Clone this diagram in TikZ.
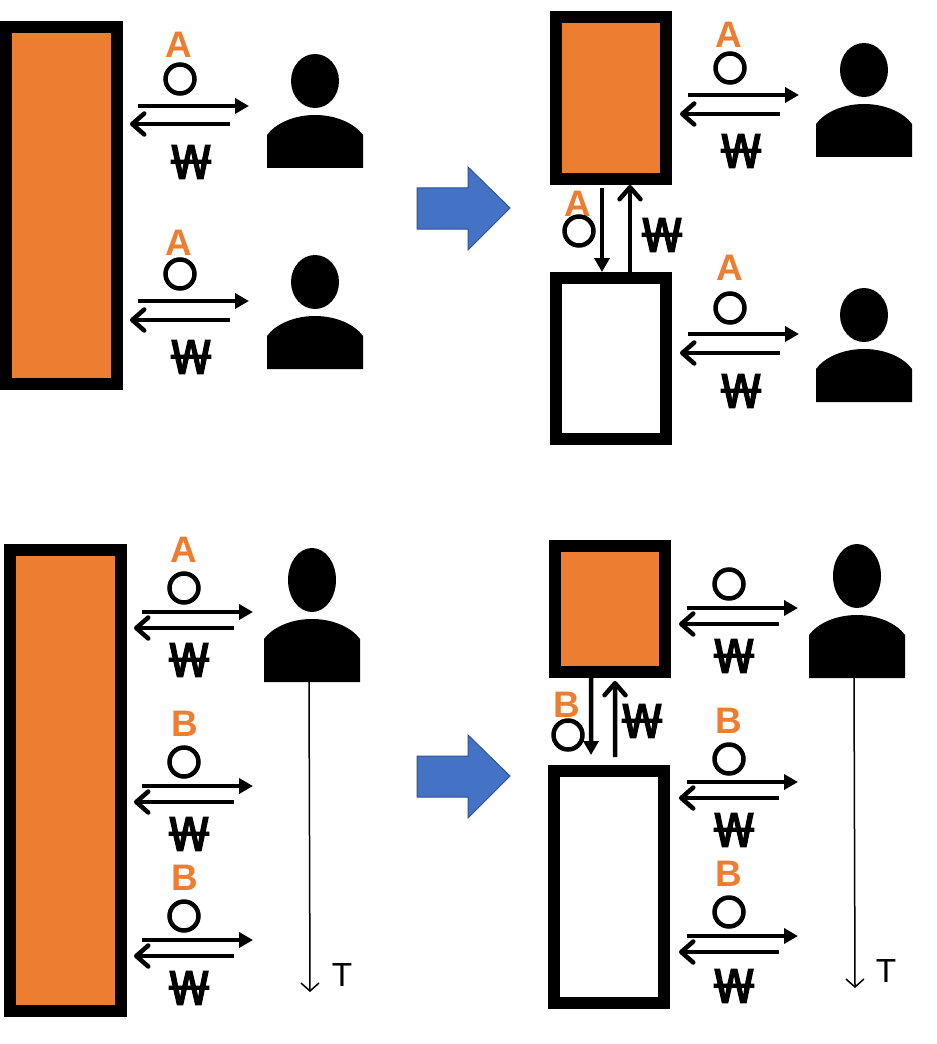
\documentclass[tikz,border=0pt]{standalone}
\usepackage{fontspec}
\setmainfont{Liberation Sans}
\newfontfamily\wonfont[FakeStretch=1.28,FakeBold=2.2]{Noto Sans}
\usetikzlibrary{arrows.meta}
\definecolor{goods}{HTML}{ED7D31}
\definecolor{bigblue}{HTML}{4472C4}
\definecolor{bigedge}{HTML}{2F528F}
\tikzset{
	store/.style={draw=black, line width=0.24cm, inner sep=0pt},
	letter/.style={text=goods, inner sep=0pt, font=\fontsize{21}{21}\selectfont\bfseries},
	ring/.style={circle, draw=black, line width=0.09cm, minimum size=0.58cm, inner sep=0pt},
	won/.style={inner sep=0pt, font=\fontsize{27}{27}\selectfont\wonfont},
	solid tip/.style={line width=0.09cm, -{Triangle[length=0.28cm, width=0.3cm]}},
	barb tip/.style={line width=0.09cm, -{Straight Barb[round, length=0.24cm, width=0.42cm]}},
	timeline/.style={line width=0.03cm, -{Straight Barb[length=0.16cm, width=0.36cm]}}
}
\def\deal#1(#2,#3)(#4,#5)(#6,#7){
	\begin{scope}[shift={(#2,#3)}]
		\node[ring] (#1ring) at (0, 0) {};
		\coordinate (#1outa) at (-42, #4);
		\coordinate (#1outb) at (69, #4);
		\coordinate (#1ina) at (50, #5);
		\coordinate (#1inb) at (-50, #5);
		\draw[solid tip] (#1outa) -- (#1outb);
		\draw[barb tip] (#1ina) -- (#1inb);
		\node[won] (#1won) at (#6, #7) {₩};
	\end{scope}
}
\def\person#1(#2,#3)(#4,#5){
	\begin{scope}[shift={(#2,#3)}]
		\fill[black] (0, -7-#4) ellipse (24 and #4);
		\fill[black] (-48, #5) -- (-48, 20) .. controls (-40, 9) and (-22, 0) .. (0, 0) .. controls (22, 0) and (40, 9) .. (48, 20) -- (48, #5) -- cycle;
		\coordinate (#1foot) at (-3, #5);
	\end{scope}
}
\def\bigarrow(#1,#2){
	\draw[fill=bigblue, draw=bigedge, line width=0.02cm] (#1, #2-20) -- (#1+51, #2-20) -- (#1+51, #2-41) -- (#1+93, #2) -- (#1+51, #2+42) -- (#1+51, #2+21) -- (#1, #2+21) -- cycle;
}

\begin{document}
\begin{tikzpicture}[x=0.02cm, y=-0.02cm]
	\useasboundingbox (0, 0) rectangle (936, 1044);
	%%%%% TOP LEFT %%%%%
	\node[store, fill=goods, minimum width=2.22cm, minimum height=7.14cm] (bigstore) at (61.5, 205.5) {};
	\node[letter] (la) at (179, 45) {A};
	\deal{a}(180, 79)(27, 45)(11, 83)
	\person{pa}(315, 115)(27, 53)
	\node[letter] (lb) at (179, 243) {A};
	\deal{b}(180, 274)(27, 46)(11, 83)
	\person{pb}(315, 316)(27, 53)
	
	\bigarrow(417, 208)
	
	%%%%% TOP RIGHT %%%%%
	\node[store, fill=goods, minimum width=2.2cm, minimum height=3.24cm] (upstore) at (611, 98) {};
	\node[store, fill=white, minimum width=2.2cm, minimum height=3.22cm] (lowstore) at (611, 358.5) {};
	\draw[solid tip, shorten <=0.06cm] ([xshift=-0.18cm]upstore.south) -- ([xshift=-0.18cm]lowstore.north);
	\draw[barb tip] ([xshift=0.38cm]lowstore.north) -- ([xshift=0.38cm]upstore.south);
	\node[letter] (lm) at (578, 204) {A};
	\node[ring] (rm) at (579, 231) {};
	\node[won] (wm) at (662, 235) {₩};
	\node[letter] (lc) at (729, 35) {A};
	\deal{c}(730, 68)(27, 46)(11, 83)
	\person{pc}(864, 104)(27, 53)
	\node[letter] (ld) at (730, 268) {A};
	\deal{d}(730, 308)(26, 45)(11, 83)
	\person{pd}(864, 349)(27, 53)
	
	%%%%% BOTTOM LEFT %%%%%
	\node[store, fill=goods, minimum width=2.22cm, minimum height=9.22cm] (longstore) at (65.5, 780.5) {};
	\node[letter] (le) at (184, 550) {A};
	\deal{e}(184, 588)(24, 40)(5, 72)
	\person{pe}(312, 619)(32, 63)
	\node[letter] (lf) at (185, 724) {B};
	\deal{f}(184, 762)(24, 40)(5, 72)
	\node[letter] (lg) at (185, 878) {B};
	\deal{g}(184, 916)(24, 40)(5, 72)
	\coordinate (ende) at (310, 992);
	\draw[timeline] (pefoot) -- (ende);
	\node[inner sep=0pt, font=\fontsize{19}{19}\selectfont] (te) at (342, 975) {T};
	
	\bigarrow(417, 776)
	
	%%%%% BOTTOM RIGHT %%%%%
	\node[store, fill=goods, minimum width=2.2cm, minimum height=2.52cm] (shopup) at (610, 609) {};
	\node[store, fill=white, minimum width=2.2cm, minimum height=4.64cm] (shoplow) at (609, 887) {};
	\draw[solid tip, shorten >=0.2cm] ([xshift=-0.38cm]shopup.south) -- ([xshift=-0.36cm]shoplow.north);
	\draw[barb tip, shorten <=0.16cm, shorten >=0.06cm] ([xshift=0.12cm]shoplow.north) -- ([xshift=0.1cm]shopup.south);
	\node[letter] (ln) at (567, 705) {B};
	\node[ring] (rn) at (568, 735) {};
	\node[won] (wn) at (642, 721) {₩};
	\deal{h}(729, 584)(24, 40)(5, 72)
	\person{ph}(857, 615)(32, 63)
	\node[letter] (li) at (729, 721) {B};
	\deal{i}(729, 759)(23, 39)(5, 71)
	\node[letter] (lj) at (729, 874) {B};
	\deal{j}(729, 912)(24, 40)(5, 74)
	\coordinate (endh) at (855, 988);
	\draw[timeline] (phfoot) -- (endh);
	\node[inner sep=0pt, font=\fontsize{19}{19}\selectfont] (th) at (886, 971) {T};
\end{tikzpicture}
\end{document}
